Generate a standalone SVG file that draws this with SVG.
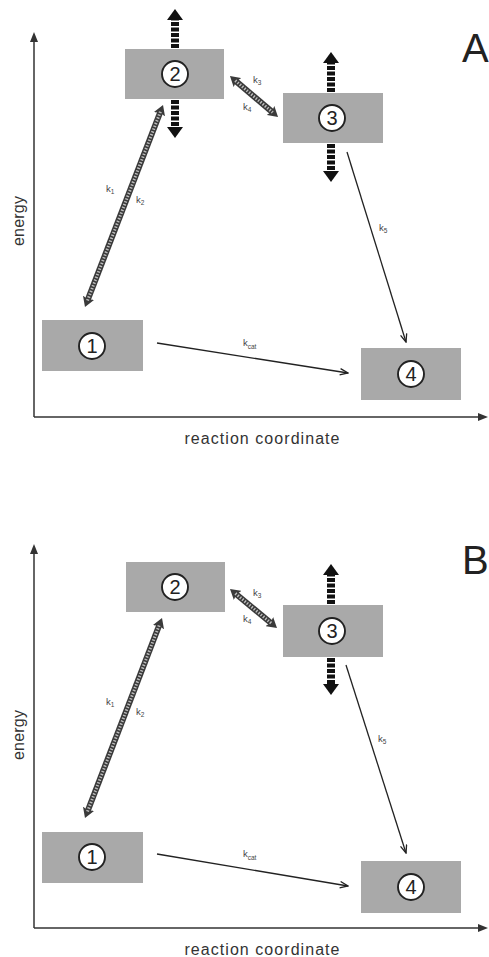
<svg xmlns="http://www.w3.org/2000/svg" width="489" height="957" viewBox="0 0 489 957">
<style>
.bg{fill:#fff}
.box{fill:#a9a9a9}
.circ{fill:#fff;stroke:#222;stroke-width:1.9}
.num{font-family:"Liberation Sans",Arial,sans-serif;font-size:20px;text-anchor:middle;fill:#222}
.axis{stroke:#333;stroke-width:1.5;fill:none}
.axhead{fill:#333}
.hat{stroke:#3a3a3a;stroke-width:6;fill:none;marker-start:url(#hh);marker-end:url(#hh)}
.hat2{stroke:#bdbdbd;stroke-width:3;stroke-dasharray:1.4 1.6;fill:none}
.thin{stroke:#222;stroke-width:1.3;fill:none;marker-end:url(#vh)}
.vshaft{stroke:#111;stroke-width:8;stroke-dasharray:4 1.5;fill:none}
.vhead{fill:#111}
.lbl{font-family:"Liberation Sans",Arial,sans-serif;font-size:9.5px;fill:#444}
.sub{font-size:6.5px}
.axlbl{font-family:"Liberation Sans",Arial,sans-serif;font-size:16px;fill:#333;text-anchor:middle}
.big{font-family:"Liberation Sans",Arial,sans-serif;font-size:40px;fill:#222}
</style>
<defs>
<marker id="hh" viewBox="0 0 10 12" refX="3" refY="6" markerWidth="10" markerHeight="12" markerUnits="userSpaceOnUse" orient="auto-start-reverse">
<path d="M0,0 L10,6 L0,12 L2,6 z" fill="#3a3a3a"/>
</marker>
<marker id="vh" viewBox="0 0 10 8" refX="9" refY="4" markerWidth="10" markerHeight="8" markerUnits="userSpaceOnUse" orient="auto">
<path d="M1,0.8 L9,4 L1,7.2" fill="none" stroke="#222" stroke-width="1.3"/>
</marker>
</defs>
<rect class="bg" x="0" y="0" width="489" height="957"/>

<g id="panelA">
<g id="A-axes">
<line class="axis" x1="34" y1="417" x2="34" y2="40"/>
<polygon class="axhead" points="34,32 38,42 30,42"/>
<line class="axis" x1="34" y1="417" x2="479" y2="417"/>
<polygon class="axhead" points="488,417 478,413 478,421"/>
<text class="axlbl" x="262" y="444" textLength="155" lengthAdjust="spacing">reaction coordinate</text>
<text class="axlbl" transform="translate(24,221) rotate(-90)" textLength="50" lengthAdjust="spacing">energy</text>
<text class="big" x="462" y="62">A</text>
</g>
<g id="A-connectors">
<line class="hat" x1="87.5" y1="300.5" x2="160.5" y2="111.5"/>
<line class="hat2" x1="87.5" y1="300.5" x2="160.5" y2="111.5"/>
<line class="hat" x1="235.3" y1="80.6" x2="272.7" y2="112.4"/>
<line class="hat2" x1="235.3" y1="80.6" x2="272.7" y2="112.4"/>
<line class="thin" x1="347" y1="152" x2="406" y2="342"/>
<line class="thin" x1="157" y1="343" x2="348" y2="373"/>
<line class="vshaft" x1="175" y1="48" x2="175" y2="19"/>
<polygon class="vhead" points="175,9 183,20 167,20"/>
<line class="vshaft" x1="175" y1="100" x2="175" y2="128"/>
<polygon class="vhead" points="175,138 183,127 167,127"/>
<line class="vshaft" x1="331" y1="92" x2="331" y2="62"/>
<polygon class="vhead" points="331,52 339,63 323,63"/>
<line class="vshaft" x1="331" y1="144" x2="331" y2="172"/>
<polygon class="vhead" points="331,182 339,171 323,171"/>
<text class="lbl" x="106" y="192">k<tspan class="sub" dy="2">1</tspan></text>
<text class="lbl" x="136" y="203">k<tspan class="sub" dy="2">2</tspan></text>
<text class="lbl" x="253" y="83">k<tspan class="sub" dy="2">3</tspan></text>
<text class="lbl" x="243" y="110">k<tspan class="sub" dy="2">4</tspan></text>
<text class="lbl" x="379" y="231">k<tspan class="sub" dy="2">5</tspan></text>
<text class="lbl" x="243" y="346">k<tspan class="sub" dy="3">cat</tspan></text>
</g>
<g id="A-node1"><rect class="box" x="42" y="320" width="101" height="51"/><circle class="circ" cx="92" cy="346" r="13"/><text class="num" x="92" y="353">1</text></g>
<g id="A-node2"><rect class="box" x="125" y="49" width="99" height="50"/><circle class="circ" cx="175" cy="74" r="13"/><text class="num" x="175" y="81">2</text></g>
<g id="A-node3"><rect class="box" x="283" y="93" width="100" height="50"/><circle class="circ" cx="332" cy="118" r="13"/><text class="num" x="332" y="125">3</text></g>
<g id="A-node4"><rect class="box" x="361" y="348" width="100" height="52"/><circle class="circ" cx="411" cy="374" r="13"/><text class="num" x="411" y="381">4</text></g>
</g>

<g id="panelB">
<g id="B-axes">
<line class="axis" x1="34" y1="928" x2="34" y2="552"/>
<polygon class="axhead" points="34,544 38,554 30,554"/>
<line class="axis" x1="34" y1="928" x2="479" y2="928"/>
<polygon class="axhead" points="488,928 478,924 478,932"/>
<text class="axlbl" x="262" y="955" textLength="155" lengthAdjust="spacing">reaction coordinate</text>
<text class="axlbl" transform="translate(24,735) rotate(-90)" textLength="50" lengthAdjust="spacing">energy</text>
<text class="big" x="462" y="574">B</text>
</g>
<g id="B-connectors">
<line class="hat" x1="87.5" y1="811.5" x2="159.5" y2="624.5"/>
<line class="hat2" x1="87.5" y1="811.5" x2="159.5" y2="624.5"/>
<line class="hat" x1="235.4" y1="593.5" x2="271.6" y2="623.5"/>
<line class="hat2" x1="235.4" y1="593.5" x2="271.6" y2="623.5"/>
<line class="thin" x1="346" y1="665" x2="406" y2="853"/>
<line class="thin" x1="157" y1="854" x2="348" y2="886"/>
<line class="vshaft" x1="331" y1="604" x2="331" y2="574"/>
<polygon class="vhead" points="331,564 339,575 323,575"/>
<line class="vshaft" x1="331" y1="658" x2="331" y2="685"/>
<polygon class="vhead" points="331,695 339,684 323,684"/>
<text class="lbl" x="106" y="705">k<tspan class="sub" dy="2">1</tspan></text>
<text class="lbl" x="136" y="715">k<tspan class="sub" dy="2">2</tspan></text>
<text class="lbl" x="253" y="596">k<tspan class="sub" dy="2">3</tspan></text>
<text class="lbl" x="243" y="622">k<tspan class="sub" dy="2">4</tspan></text>
<text class="lbl" x="378" y="742">k<tspan class="sub" dy="2">5</tspan></text>
<text class="lbl" x="243" y="857">k<tspan class="sub" dy="3">cat</tspan></text>
</g>
<g id="B-node1"><rect class="box" x="42" y="832" width="101" height="51"/><circle class="circ" cx="92" cy="857" r="13"/><text class="num" x="92" y="864">1</text></g>
<g id="B-node2"><rect class="box" x="126" y="562" width="99" height="50"/><circle class="circ" cx="175" cy="587" r="13"/><text class="num" x="175" y="594">2</text></g>
<g id="B-node3"><rect class="box" x="283" y="605" width="100" height="52"/><circle class="circ" cx="332" cy="631" r="13"/><text class="num" x="332" y="638">3</text></g>
<g id="B-node4"><rect class="box" x="361" y="861" width="100" height="52"/><circle class="circ" cx="411" cy="887" r="13"/><text class="num" x="411" y="894">4</text></g>
</g>
</svg>
